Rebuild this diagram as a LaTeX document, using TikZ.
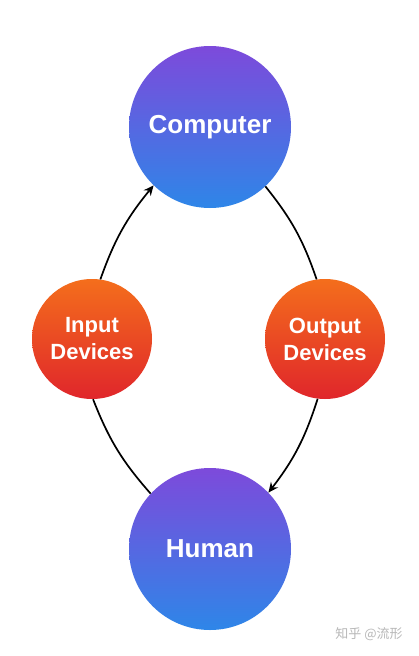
\documentclass[tikz,border=0pt]{standalone}
\usepackage{fontspec}
\setmainfont{Liberation Sans}
\newfontfamily\cjk{Noto Sans CJK SC}
\usetikzlibrary{arrows.meta}
\definecolor{purpletop}{HTML}{7D4ADB}
\definecolor{bluebot}{HTML}{2E86E8}
\definecolor{orangetop}{HTML}{F46E1C}
\definecolor{redbot}{HTML}{E0262B}
\definecolor{wm}{HTML}{B8B8B8}
\tikzset{
  bigcirc/.style={circle, minimum size=162pt, inner sep=0pt, top color=purpletop, bottom color=bluebot, draw=none,
    text=white, font=\bfseries\fontsize{26}{30}\selectfont, align=center},
  smallcirc/.style={circle, minimum size=120pt, inner sep=0pt, top color=orangetop, bottom color=redbot, draw=none,
    text=white, font=\bfseries\fontsize{22}{27}\selectfont, align=center},
  conn/.style={line width=1.7pt, black},
  arr/.style={conn, -{Stealth[length=10pt,width=9pt]}},
}
\begin{document}
\begin{tikzpicture}[x=1pt,y=1pt]
\useasboundingbox (0,0) rectangle (418,-656);
\fill[white] (0,0) rectangle (418,-656);
\node[bigcirc] (comp) at (210,-127) {Computer};
\node[bigcirc] (human) at (210,-549) {Human};
\node[smallcirc] (in) at (92,-339) {Input\\Devices};
\node[smallcirc] (out) at (325,-339) {Output\\Devices};
\draw[arr] (in.82) to[bend left=10] (comp.226);
\draw[conn] (comp.313) to[bend left=10] (out.98);
\draw[arr] (out.263) to[bend left=10] (human.44);
\draw[conn] (human.137) to[bend left=10] (in.271);
\node[text=wm, font=\cjk\fontsize{13}{15}\selectfont] (wmark) at (369,-634) {知乎 @流形};
\end{tikzpicture}
\end{document}
